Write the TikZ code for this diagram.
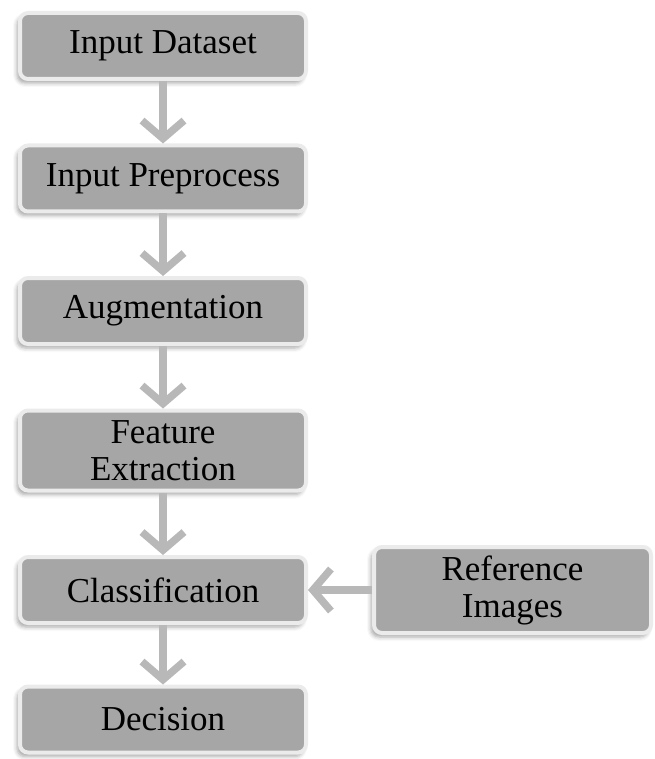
\documentclass[tikz,border=0pt]{standalone}
\usepackage{fontspec}
\setmainfont{Liberation Serif}
\usepackage{tikz}
\usetikzlibrary{arrows.meta, positioning, shadows.blur}
\tikzstyle{arrow} = [line width=7.5pt, draw=black!28, -{Straight Barb[length=18pt,width=42pt]}]
\tikzstyle{process} = [rectangle, rounded corners=8pt, minimum width=286pt, minimum height=66pt, text centered, draw=black!8, line width=4pt, fill=black!35, font=\fontsize{35}{37}\selectfont, blur shadow={shadow xshift=-3pt, shadow yshift=-4pt, shadow blur radius=4pt, shadow opacity=35}]

\begin{document}
\begin{tikzpicture}[x=1pt, y=1pt, node distance=62.5pt]
    \useasboundingbox (0,0) rectangle (654,-759);

    % Pasos
    \node (dataset) [process] at (163,-46) {Input Dataset};
    \node (prep) [process, below=of dataset] {Input Preprocess};
    \node (aug) [process, below=of prep] {Augmentation};
    \node (feat) [process, below=of aug, align=center, minimum height=80pt, inner sep=2pt] {Feature\\Extraction};
    \node (cls) [process, below=of feat] {Classification};
    \node (dec) [process, below=59.5pt of cls] {Decision};

    % Referencia
    \node (refimg) [process, right=64pt of cls, minimum width=277pt, minimum height=86pt, align=center] {Reference\\Images};

    % Flechas
    \draw [arrow] (dataset) -- (prep);
    \draw [arrow] (prep) -- (aug);
    \draw [arrow] (aug) -- (feat);
    \draw [arrow] (feat) -- (cls);
    \draw [arrow] (cls) -- (dec);
    \draw [arrow] (refimg) -- (cls);
\end{tikzpicture}
\end{document}
